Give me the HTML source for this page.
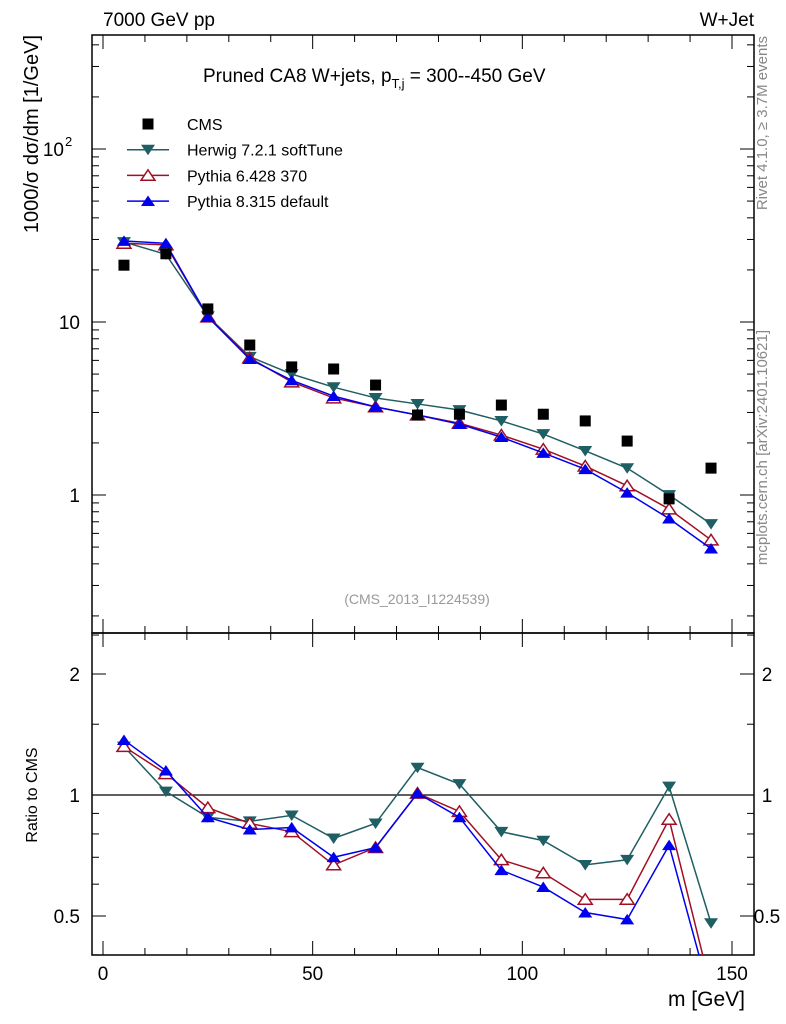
<!DOCTYPE html>
<html><head><meta charset="utf-8"><style>
body{margin:0;background:#fff;}
svg{display:block;font-family:"Liberation Sans","DejaVu Sans",sans-serif;}
</style></head><body>
<svg id="chart" width="786" height="1024" viewBox="0 0 786 1024">
<g id="main"></g>
</svg>
<script>
const categories=[5,15,25,35,45,55,65,75,85,95,105,115,125,135,145];
const cmsVals=[21.3,24.8,11.9,7.36,5.5,5.35,4.32,2.9,2.93,3.31,2.93,2.68,2.05,0.95,1.43];
const herwigVals=[29,24.6,10.8,6.3,5.0,4.2,3.64,3.36,3.1,2.68,2.25,1.8,1.43,1.0,0.68];
const py6Vals=[28.5,27.9,10.7,6.2,4.5,3.64,3.23,2.9,2.6,2.22,1.84,1.47,1.13,0.83,0.55];
const py8Vals=[29.4,28.5,10.7,6.1,4.6,3.73,3.23,2.9,2.57,2.16,1.75,1.41,1.03,0.73,0.49];
const herwigRatio=[1.32,1.02,0.88,0.86,0.89,0.78,0.85,1.17,1.065,0.81,0.77,0.67,0.69,1.05,0.48];
const py6Ratio=[1.32,1.13,0.93,0.85,0.81,0.67,0.74,1.01,0.91,0.69,0.64,0.55,0.55,0.87,0.33];
const py8Ratio=[1.37,1.15,0.88,0.82,0.83,0.70,0.74,1.01,0.88,0.65,0.59,0.51,0.49,0.75,0.31];
const xTicks=[0,50,100,150];

const NS="http://www.w3.org/2000/svg";
const root=document.getElementById('main');
const L=92,R=754,T=35,MB=633,B=955;
const xs=v=>103+v*(732-103)/150;
const ys=v=>495-173*Math.log10(v);
const yr=v=>795-121*Math.log2(v);
function el(tag,attrs,parent){const e=document.createElementNS(NS,tag);for(const k in attrs)e.setAttribute(k,attrs[k]);(parent||root).appendChild(e);return e;}
function txt(x,y,s,attrs){const e=el('text',Object.assign({x:x,y:y},attrs||{}));e.textContent=s;return e;}

const defs=el('defs',{});
const c1=el('clipPath',{id:'cm'},defs);el('rect',{x:L,y:T,width:R-L,height:MB-T},c1);
const c2=el('clipPath',{id:'cr'},defs);el('rect',{x:L,y:MB,width:R-L,height:B-MB},c2);

let f=el('rect',{x:L,y:T,width:R-L,height:MB-T,fill:'none',stroke:'#000','stroke-width':1.5});

f=el('rect',{x:L,y:MB,width:R-L,height:B-MB,fill:'none',stroke:'#000','stroke-width':1.5});


for(let v=0;v<=155;v+=10){
  const x=xs(v);const major=v%50===0;const len=major?14:7;
  for(const [y0,dir] of [[MB,-1],[T,1],[B,-1],[MB,1]]){
    el('line',{x1:x,y1:y0,x2:x,y2:y0+dir*len,stroke:'#000','stroke-width':1});
  }
}
xTicks.forEach(v=>{const t=txt(xs(v),980,String(v),{'font-size':19,'text-anchor':'middle'});
});

for(let d=-1;d<=2;d++){for(let m=1;m<=9;m++){const v=m*Math.pow(10,d);const y=ys(v);if(y<T||y>MB)continue;
  const len=m===1?14:7;
  el('line',{x1:L,y1:y,x2:L+len,y2:y,stroke:'#000'});el('line',{x1:R,y1:y,x2:R-len,y2:y,stroke:'#000'});}}
let t=txt(80,502,'1',{'font-size':19,'text-anchor':'end'});
t=txt(80,329,'10',{'font-size':19,'text-anchor':'end'});
t=txt(64,156,'10',{'font-size':19,'text-anchor':'end'});
txt(65,146,'2',{'font-size':13});

[0.4,0.5,0.6,0.7,0.8,0.9,1,1.5,2,2.5].forEach(v=>{const y=yr(v);if(y<MB)return;const len=(v===0.5||v===1||v===2)?14:7;
  el('line',{x1:L,y1:y,x2:L+len,y2:y,stroke:'#000'});el('line',{x1:R,y1:y,x2:R-len,y2:y,stroke:'#000'});});
[[2,'2'],[1,'1'],[0.5,'0.5']].forEach(([v,s])=>{
  t=txt(80,yr(v)+7,s,{'font-size':19,'text-anchor':'end'});
  t=txt(767,yr(v)+7,s,{'font-size':19,'text-anchor':'middle'});});
const ref=el('line',{x1:L,y1:yr(1),x2:R,y2:yr(1),stroke:'#000','stroke-width':1.2});


function marker(g,kind,x,y,color){
  const s=7;
  if(kind==='sq'){const m=el('rect',{x:x-5.5,y:y-5.5,width:11,height:11,fill:'#000'},g);return m;}
  if(kind==='down')return el('polygon',{points:`${x-s},${y-s*0.7} ${x+s},${y-s*0.7} ${x},${y+s*0.8}`,fill:color},g);
  if(kind==='up')return el('polygon',{points:`${x-s},${y+s*0.7} ${x+s},${y+s*0.7} ${x},${y-s*0.8}`,fill:color},g);
  if(kind==='upo')return el('polygon',{points:`${x-s},${y+s*0.7} ${x+s},${y+s*0.7} ${x},${y-s*0.8}`,fill:'#fff',stroke:color,'stroke-width':1.5},g);
}
function series(name,vals,yf,clip,color,kind,line){
  const g=el('g',{'clip-path':`url(#${clip})`});
  
  if(line){const p=el('polyline',{points:vals.map((v,i)=>xs(categories[i])+','+yf(v)).join(' '),fill:'none',stroke:color,'stroke-width':1.5},g);
    }
  vals.forEach((v,i)=>{const m=marker(g,kind,xs(categories[i]),yf(v),color);
    });
}
series('herwig-series',herwigVals,ys,'cm','#1f5e63','down',true);
series('pythia6-series',py6Vals,ys,'cm','#a00f24','upo',true);
series('pythia8-series',py8Vals,ys,'cm','#0000ee','up',true);
series('cms-data',cmsVals,ys,'cm','#000','sq',false);
series('herwig-ratio',herwigRatio,yr,'cr','#1f5e63','down',true);
series('pythia6-ratio',py6Ratio,yr,'cr','#a00f24','upo',true);
series('pythia8-ratio',py8Ratio,yr,'cr','#0000ee','up',true);

const leg=[['CMS','sq','#000'],['Herwig 7.2.1 softTune','down','#1f5e63'],['Pythia 6.428 370','upo','#a00f24'],['Pythia 8.315 default','up','#0000ee']];
leg.forEach((d,i)=>{const y=124+i*25.7;const g=el('g',{});
  
  if(d[1]!=='sq')el('line',{x1:127,y1:y,x2:169,y2:y,stroke:d[2],'stroke-width':1.5},g);
  marker(g,d[1],148,y,d[2]);
  const tt=el('text',{x:187,y:y+6,'font-size':16},g);tt.textContent=d[0];});

t=txt(103,26,'7000 GeV pp',{'font-size':19});
t=txt(754,26,'W+Jet',{'font-size':19,'text-anchor':'end'});
t=el('text',{x:203,y:82,'font-size':19});
t.innerHTML='Pruned CA8 W+jets, p<tspan font-size="13" dy="6">T,j</tspan><tspan dy="-6"> = 300--450 GeV</tspan>';
t=txt(417,604,'(CMS_2013_I1224539)',{'font-size':14,'text-anchor':'middle',fill:'#999'});
t=txt(745,1006,'m [GeV]',{'font-size':21,'text-anchor':'end'});
t=el('text',{x:0,y:0,'font-size':20,transform:'translate(38,35) rotate(-90)','text-anchor':'end'});
t.innerHTML='1000/σ  dσ/dm [1/GeV]';
t=txt(0,0,'Ratio to CMS',{'font-size':16,transform:'translate(37,795) rotate(-90)','text-anchor':'middle'});
t=txt(0,0,'Rivet 4.1.0, ≥ 3.7M events',{'font-size':15,fill:'#888',transform:'translate(767,36) rotate(-90)','text-anchor':'end'});
t=txt(0,0,'mcplots.cern.ch [arXiv:2401.10621]',{'font-size':15,fill:'#888',transform:'translate(767,330) rotate(-90)','text-anchor':'end'});
</script>
</body></html>
